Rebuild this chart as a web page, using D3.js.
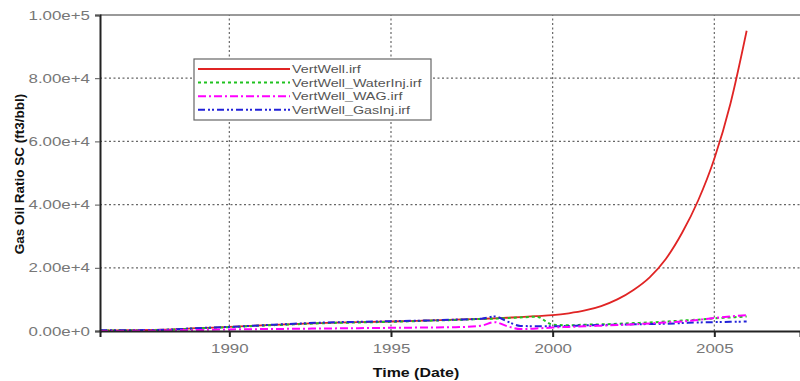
<!DOCTYPE html>
<html>
<head>
<meta charset="utf-8">
<script src="https://cdn.jsdelivr.net/npm/d3@7"></script>
<style>
  body { margin: 0; background: #fff; }
  svg { display: block; font-family: Arial, "Liberation Sans", sans-serif; }
</style>
</head>
<body>
<div id="chart"></div>
<script>
// time axis (decimal years) shared by every series
let years = [1986, 1987, 1988, 1989, 1990, 1991, 1992, 1993, 1994, 1995, 1996, 1997, 1997.8, 1998.2, 1998.6,
             1999, 1999.5, 2000, 2000.5, 2001, 2001.5, 2002, 2002.5, 2003, 2003.5, 2004, 2004.5, 2005, 2005.5, 2006];

let vertWell = [200, 250, 400, 900, 1300, 1800, 2200, 2600, 2800, 3000, 3300, 3600, 3850, 4000, 4200,
                4400, 4700, 5000, 5600, 6500, 7900, 10000, 13000, 17000, 22800, 31000, 41300, 54500, 72000, 95000];
let waterInj = [150, 200, 350, 800, 1200, 1700, 2100, 2500, 2700, 2900, 3200, 3500, 3800, 3900, 4100,
                4300, 4500, 2000, 1800, 2000, 2100, 2300, 2500, 2700, 3000, 3300, 3600, 4000, 4300, 4600];
let wag      = [0, 50, 150, 300, 500, 600, 700, 800, 900, 1000, 1100, 1200, 1700, 2800, 1500,
                600, 800, 1100, 1300, 1500, 1700, 1900, 2100, 2400, 2700, 3000, 3500, 4100, 4600, 5000];
let gasInj   = [200, 250, 400, 900, 1300, 1800, 2300, 2700, 2900, 3100, 3300, 3600, 3900, 4600, 3000,
                1600, 1500, 1500, 1600, 1800, 1900, 2000, 2100, 2200, 2300, 2500, 2700, 2800, 2900, 3000];

let seriesNames = ["VertWell.irf", "VertWell_WaterInj.irf", "VertWell_WAG.irf", "VertWell_GasInj.irf"];
let seriesValues = [vertWell, waterInj, wag, gasInj];
let colors = ["#e02424", "#1fc21f", "#ff00ff", "#2222d8"];
let dashes = [null, "3,3", "8,3,2,3", "7,3,2,2,2,3"];

let xTicks = [1990, 1995, 2000, 2005];
let yTicks = [0, 20000, 40000, 60000, 80000, 100000];

let width = 800, height = 381;
let margin = {left: 100, top: 15, right: 0, bottom: 50};
let stretch = 1.3; // the original text is drawn wide

createChart();

function createChart() {
    let svg = d3.select("#chart").append("svg")
        .attr("width", width)
        .attr("height", height);

    let x = d3.scaleLinear().domain([1986, 2007.65]).range([margin.left, width - margin.right]);
    let y = d3.scaleLinear().domain([0, 100000]).range([height - margin.bottom, margin.top]);

    // dotted grid
    svg.append("g").selectAll("line").data(xTicks).join("line")
        .attr("x1", d => x(d)).attr("x2", d => x(d))
        .attr("y1", y(0)).attr("y2", y(100000))
        .attr("stroke", "#666").attr("stroke-width", 1.2).attr("stroke-dasharray", "2,2.5");
    svg.append("g").selectAll("line").data(yTicks.slice(1, -1)).join("line")
        .attr("x1", margin.left).attr("x2", width)
        .attr("y1", d => y(d)).attr("y2", d => y(d))
        .attr("stroke", "#666").attr("stroke-width", 1.2).attr("stroke-dasharray", "2,2.5");

    // top border
    svg.append("line")
        .attr("x1", margin.left).attr("x2", width)
        .attr("y1", y(100000)).attr("y2", y(100000))
        .attr("stroke", "#777").attr("stroke-width", 1.5);

    // series
    let line = d3.line()
        .x((d, i) => x(years[i]))
        .y(d => y(d))
        .curve(d3.curveMonotoneX);

    let order = [0, 1, 3, 2];
    order.forEach(k => {
        svg.append("path")
            .attr("d", line(seriesValues[k]))
            .attr("fill", "none")
            .attr("stroke", colors[k])
            .attr("stroke-width", k === 0 ? 1.8 : 2)
            .attr("stroke-dasharray", dashes[k]);
    });

    // axes
    let yAxis = d3.axisLeft(y).tickValues(yTicks).tickFormat(d3.format(".2e")).tickSize(5);
    let gy = svg.append("g").attr("transform", `translate(${margin.left},0)`).call(yAxis);
    gy.select(".domain").attr("stroke", "#222").attr("stroke-width", 2);
    gy.selectAll(".tick line").attr("stroke", "#555");
    gy.selectAll(".tick text")
        .attr("x", -10 / stretch)
        .attr("transform", `scale(${stretch},1)`)
        .attr("fill", "#777").attr("font-size", 13);

    let xAxis = d3.axisBottom(x).tickValues(xTicks).tickFormat(d3.format("d")).tickSize(6).tickPadding(7);
    let gx = svg.append("g").attr("transform", `translate(0,${y(0)})`).call(xAxis);
    gx.select(".domain").attr("stroke", "#222").attr("stroke-width", 2);
    gx.selectAll(".tick line").attr("stroke", "#222").attr("stroke-width", 2);
    gx.selectAll(".tick text")
        .attr("transform", `scale(${stretch},1)`)
        .attr("fill", "#777").attr("font-size", 13);

    // axis titles
    svg.append("text")
        .attr("transform", `translate(416,377) scale(1.18,1)`)
        .attr("text-anchor", "middle")
        .attr("font-size", 13.5).attr("font-weight", "bold").attr("fill", "#111")
        .text("Time (Date)");
    svg.append("text")
        .attr("transform", "translate(24,174) rotate(-90)")
        .attr("text-anchor", "middle")
        .attr("font-size", 13.5).attr("font-weight", "bold").attr("fill", "#111")
        .text("Gas Oil Ratio SC (ft3/bbl)");

    // legend
    let legend = svg.append("g").attr("transform", "translate(194,59)");
    legend.append("rect")
        .attr("width", 237).attr("height", 61)
        .attr("fill", "#fff").attr("stroke", "#666").attr("stroke-width", 1.2);
    seriesNames.forEach((name, i) => {
        let ly = 10 + i * 13.6;
        legend.append("line")
            .attr("x1", 4).attr("x2", 96)
            .attr("y1", ly).attr("y2", ly)
            .attr("stroke", colors[i]).attr("stroke-width", 2)
            .attr("stroke-dasharray", dashes[i]);
        legend.append("text")
            .attr("transform", `translate(98,${ly + 4}) scale(${stretch},1)`)
            .attr("font-size", 11).attr("fill", "#555")
            .text(name);
    });

    return svg.node();
}
</script>
</body>
</html>
